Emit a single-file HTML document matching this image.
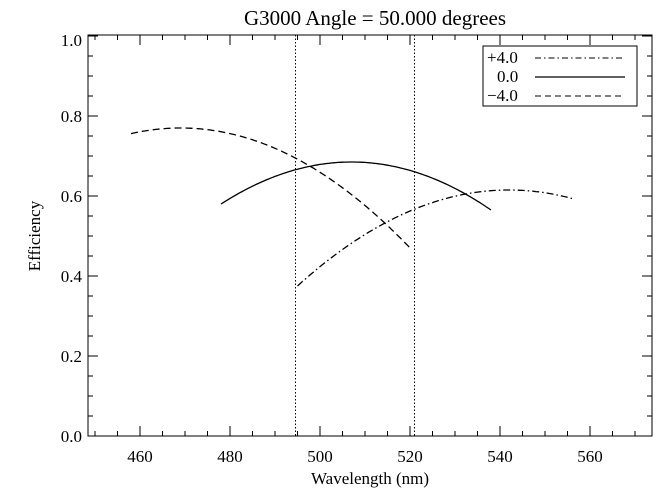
<!DOCTYPE html>
<html><head><meta charset="utf-8"><style>
body{margin:0;background:#fff;}
svg text{font-family:"Liberation Serif",serif;fill:#000;}
</style></head><body>
<svg id="s" width="668" height="493" xmlns="http://www.w3.org/2000/svg">
<rect x="0" y="0" width="668" height="493" fill="#fff"/>
<text x="375" y="25" font-size="21" text-anchor="middle">G3000  Angle = 50.000 degrees</text>
<rect x="88" y="35" width="564" height="401" fill="none" stroke="#000" stroke-width="1"/>
<g id="t" stroke="#000" stroke-width="1"></g>
<g id="c" fill="none" stroke="#000" stroke-width="1.3"></g>
<line x1="295.5" y1="35" x2="295.5" y2="436" stroke="#000" stroke-dasharray="1.5,2"/>
<line x1="414.5" y1="35" x2="414.5" y2="436" stroke="#000" stroke-dasharray="1.5,2"/>
<g font-size="17" text-anchor="middle">
<text x="140" y="462">460</text><text x="230" y="462">480</text><text x="320" y="462">500</text>
<text x="410" y="462">520</text><text x="500" y="462">540</text><text x="590" y="462">560</text>
</g>
<g font-size="17" text-anchor="end">
<text x="82" y="442">0.0</text><text x="82" y="362">0.2</text><text x="82" y="282">0.4</text>
<text x="82" y="202">0.6</text><text x="82" y="122">0.8</text><text x="82" y="46">1.0</text>
</g>
<text x="370" y="484" font-size="17" text-anchor="middle">Wavelength (nm)</text>
<text x="40" y="236" font-size="17" text-anchor="middle" transform="rotate(-90 40 236)">Efficiency</text>
<rect x="483" y="46" width="154" height="60" fill="#fff" stroke="#000"/>
<g font-size="17">
<text x="487" y="63">+4.0</text><text x="497" y="82">0.0</text><text x="487" y="101">−4.0</text>
</g>
<line x1="535" y1="58" x2="625" y2="58" stroke="#000" stroke-dasharray="6,3,1.5,3"/>
<line x1="535" y1="77" x2="625" y2="77" stroke="#000" stroke-width="1.3"/>
<line x1="535" y1="96" x2="625" y2="96" stroke="#000" stroke-dasharray="6,4"/>
</svg>
<script>
var X=function(w){return 140+(w-460)*4.5}, Y=function(e){return 436-e*400};
var t=document.getElementById('t'),c=document.getElementById('c'),ns="http://www.w3.org/2000/svg";
function L(x1,y1,x2,y2){var l=document.createElementNS(ns,'line');l.setAttribute('x1',x1);l.setAttribute('y1',y1);l.setAttribute('x2',x2);l.setAttribute('y2',y2);t.appendChild(l);}
for(var w=450;w<=570;w+=5){var x=X(w);if(x<88||x>652)continue;var len=(w%20==0)?10:5;L(x,436,x,436-len);L(x,35,x,35+len);}
for(var i=0;i<=20;i++){var y=Y(i*0.05);var len=(i%4==0)?10:5;L(88,y,88+len,y);L(652,y,652-len,y);}
function P(w0,w1,pk,pe,a,dash){var d='';for(var w=w0;w<=w1+0.01;w+=0.5){var e=pe-a*(w-pk)*(w-pk);d+=(d?'L':'M')+X(w).toFixed(1)+' '+Y(e).toFixed(1);}
var p=document.createElementNS(ns,'path');p.setAttribute('d',d);if(dash)p.setAttribute('stroke-dasharray',dash);c.appendChild(p);}
P(458,520,469,0.77,0.0001153,'7,4');
P(478,538,507,0.685,0.000125,null);
P(495,556,542,0.615,0.0001086,'7,3,1.5,3');
</script>
</body></html>
